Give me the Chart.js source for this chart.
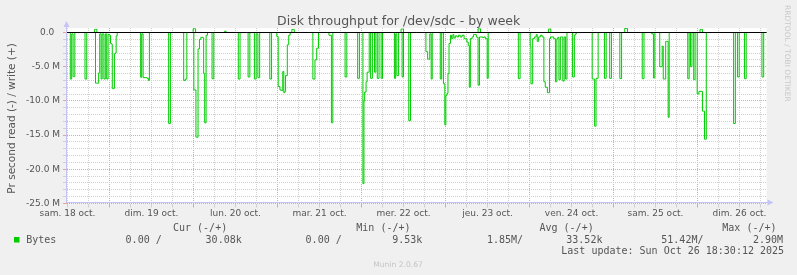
<!DOCTYPE html>
<html>
<head>
<meta charset="utf-8">
<script src="https://cdn.jsdelivr.net/npm/chart.js@4/dist/chart.umd.min.js"></script>
<style>
html,body{margin:0;padding:0;background:#f0f0f0;}
#wrap{position:relative;width:797px;height:275px;}
canvas{display:block;}
</style>
</head>
<body>
<div id="wrap"><canvas id="c" width="797" height="275"></canvas></div>
<script>
// ---- data (hours since sam. 18 oct. 00:00, values in millions of bytes/s) ----
const dayLabels = ['sam. 18 oct.', 'dim. 19 oct.', 'lun. 20 oct.', 'mar. 21 oct.', 'mer. 22 oct.',
  'jeu. 23 oct.', 'ven. 24 oct.', 'sam. 25 oct.', 'dim. 26 oct.'];

// read throughput, drawn as negative values
const readSamples = [
  [11.9,0],
  [12.3,0],[12.8,-6.8],[13.2,-0.2],[13.6,-6.45],[14.1,0],
  [16.5,0],[17.0,-6.8],[17.5,0],
  [19.6,0],[20.0,-7.4],[20.4,-7.4],[20.9,-5.9],[21.2,-0.2],[21.6,-6.8],[21.9,-0.2],[22.4,-6.8],[22.8,-0.2],[23.2,-6.8],[23.6,-0.3],[24.0,-0.4],[24.3,-1.6],[24.6,-1.7],[24.8,-8.2],[25.1,-8.2],[25.4,-3.1],[25.7,-3.0],[25.9,-0.5],[26.2,0],
  [32.5,0],[32.9,-6.55],[33.2,-0.2],[33.6,-6.6],[34.7,-6.7],[35.1,-7.0],[35.4,0],
  [40.4,0],[40.9,-13.3],[41.4,0],
  [44.9,0],[45.2,-7.0],[45.7,-6.8],[46.1,0],
  [47.9,0],[48.1,-8.4],[48.4,-8.4],[48.7,-15.3],[48.9,-15.3],[49.3,-2.4],[49.7,-1.0],[50.1,-0.7],[50.7,-0.8],[50.9,-6.0],[51.2,-13.2],[51.6,-0.4],[52.0,0],
  [52.8,0],[53.3,-6.75],[53.8,0],
  [60.3,0],[60.8,-6.8],[61.3,0],
  [63.1,0],[63.6,-6.5],[64.1,0],
  [64.9,0],[65.4,-6.8],[65.9,-0.2],[66.4,-6.6],[66.9,0],
  [69.3,0],[69.8,-6.8],[70.3,0],
  [71.4,0],[71.8,-0.6],[72.2,-7.9],[72.7,-8.4],[73.2,-8.5],[73.5,-5.7],[73.8,-8.8],[74.1,-8.6],[74.3,-6.3],[74.8,-1.8],[75.2,-0.4],[75.6,0],
  [81.7,0],[82.1,-6.8],[82.7,-4.0],[83.2,-2.3],[83.7,0],
  [86.3,0],[86.7,-0.4],[87.0,-0.4],[87.4,-13.2],[87.8,0],
  [90.8,0],[91.3,-6.5],[91.8,0],
  [94.4,0],[94.9,-6.7],[95.4,0],
  [96.0,0],[96.4,-22.1],[96.7,-10.0],[96.9,-8.7],[97.3,-7.2],[97.6,-5.8],[97.9,-5.8],[98.2,0],[98.6,-6.7],[99.1,0],[99.7,-5.8],[100.1,0],[100.5,-6.7],[101.0,0],[101.6,-6.7],[102.0,0],
  [104.9,0],[105.4,-6.7],[105.75,-0.2],[106.1,-6.3],[106.6,0],
  [107.1,0],[107.6,-6.5],[108.0,0],
  [109.0,0],[109.5,-12.9],[110.0,0],
  [114.0,0],[114.4,-2.8],[114.9,-3.9],[115.2,-3.9],[115.5,-0.2],[115.9,-6.8],[116.2,0],
  [118.0,0],[118.5,-6.8],[118.9,0],
  [119.1,0],[119.4,-7.5],[119.8,-13.5],[120.1,-9.2],[120.4,-8.9],[120.7,-6.0],[121.0,-1.6],[121.4,-0.4],[121.7,-0.9],[122.1,-0.3],[122.4,-0.8],[122.8,-0.5],[123.3,-0.65],[123.7,-0.4],[124.2,-0.65],[124.7,-0.4],[125.3,-0.9],[125.7,-0.9],[126.1,-1.4],[126.5,-1.9],[126.8,-8.0],[127.1,-0.9],[127.6,-0.65],[128.0,-0.3],[128.4,-0.3],[128.8,-0.65],[129.0,-0.7],[129.3,-7.7],[129.7,-0.65],[130.1,-0.65],[130.6,-0.75],[131.0,-0.65],[131.4,-0.9],[131.9,-6.7],[132.2,0],
  [140.3,0],[140.8,-6.75],[141.3,0],
  [143.9,0],[144.2,-2.1],[144.4,-7.5],[144.9,-0.9],[145.4,-0.65],[145.9,-0.3],[146.2,-1.3],[146.6,-0.65],[147.1,-0.4],[147.6,-0.65],[148.1,-7.2],[148.5,-8.0],[149.1,-8.8],[149.5,-8.8],[149.7,-0.9],[150.0,-0.65],[150.4,-0.65],[150.9,-0.9],[151.4,-7.2],[151.8,-0.9],[152.1,-0.7],[152.4,-6.9],[152.8,-0.65],[153.1,-0.65],[153.5,-7.1],[153.9,-0.65],[154.3,-6.8],[154.7,0],
  [155.8,0],[156.3,-6.5],[156.8,-0.4],[157.1,-0.2],[157.4,0],
  [161.6,0],[161.9,-6.8],[162.3,-6.8],[162.6,-13.7],[162.85,-13.7],[163.0,-6.7],[163.3,-6.7],[163.6,0],
  [164.9,0],[165.4,-6.7],[165.9,0],
  [166.4,0],[166.9,-6.7],[167.4,0],
  [169.3,0],[169.8,-6.75],[170.3,0],
  [175.7,0],[176.2,-6.75],[176.7,0],
  [178.6,0],[178.9,-0.2],[179.4,-6.65],[179.8,0],
  [180.9,0],[181.2,-5.0],[181.6,-5.0],[181.9,-2.0],[182.2,-6.8],[182.6,-6.8],[182.9,-1.3],[183.2,-1.3],[183.6,-12.4],[183.9,0],
  [188.8,0],[189.2,-6.75],[189.6,0],[190.0,-5.0],[190.4,0],[190.9,-6.9],[191.3,0],
  [191.5,0],[191.9,-9.0],[192.4,-8.6],[193.0,-8.6],[193.4,-11.5],[193.7,-11.5],[194.0,-15.6],[194.2,-15.6],[194.5,0],
  [201.8,0],[202.3,-13.3],[202.8,0],[203.4,-6.5],[203.9,0],
  [204.9,0],[205.4,-6.75],[205.9,0],
  [209.9,0],[210.4,-6.5],[210.9,0],
  [211.7,0]
];

// write throughput, drawn as positive values
const writeSamples = [
  [11.9,0],
  [19.3,0],[19.7,0.45],[20.0,0.45],[20.4,0],
  [47.6,0],[47.9,0.55],[48.3,0.55],[48.6,0],
  [56.5,0],[56.9,0.2],[57.3,0],
  [75.8,0],[76.1,0.45],[76.5,0.45],[76.8,0],
  [107.0,0],[107.3,0.5],[107.7,0.5],[108.0,0],
  [128.9,0],[129.3,0.55],[129.7,0.55],[130.0,0],
  [149.0,0],[149.4,0.5],[149.8,0.5],[150.1,0],
  [170.9,0],[171.2,0.6],[171.6,0.6],[172.0,0],
  [192.4,0],[192.7,0.45],[193.1,0.45],[193.4,0],
  [211.7,0]
];

const legendHeaders = ['Cur (-/+)', 'Min (-/+)', 'Avg (-/+)', 'Max (-/+)'];
const legendValues = ['0.00 /', '30.08k', '0.00 /', '9.53k', '1.85M/', '33.52k', '51.42M/', '2.90M'];
const seriesName = 'Bytes';
const lastUpdate = 'Last update: Sun Oct 26 18:30:12 2025';

// ---- rendering ----
const GREEN = '#00cc00';
const TEXT = '#555555';
const MINOR = '#d0d0d0';
const MAJOR = '#eba0a0';
const AXIS = '#c4c4f4';

const toPts = arr => arr.map(p => ({x: p[0], y: p[1]}));
const isMajorY = v => Math.abs(Math.round(v) % 5) === 0;

const muninPlugin = {
  id: 'munin',
  beforeDraw(chart) {
    const {ctx, chartArea: a} = chart;
    ctx.save();
    ctx.fillStyle = '#f0f0f0';
    ctx.fillRect(0, 0, chart.width, chart.height);
    ctx.fillStyle = '#ffffff';
    ctx.fillRect(a.left, a.top, a.right - a.left, a.bottom - a.top);
    ctx.restore();
  },
  afterDatasetsDraw(chart) {
    const {ctx, chartArea: a, scales: {y}} = chart;
    const y0 = Math.floor(y.getPixelForValue(0)) + 0.5;
    ctx.save();
    ctx.strokeStyle = '#000000';
    ctx.lineWidth = 1;
    ctx.beginPath();
    ctx.moveTo(a.left, y0);
    ctx.lineTo(a.right, y0);
    ctx.stroke();
    ctx.restore();
  },
  afterDraw(chart) {
    const {ctx, chartArea: a} = chart;
    ctx.save();
    // axes with arrows
    const ax = Math.floor(a.left) - 0.5;
    const ay = Math.floor(a.bottom) - 0.5;
    ctx.strokeStyle = AXIS;
    ctx.fillStyle = AXIS;
    ctx.lineWidth = 1;
    ctx.beginPath();
    ctx.moveTo(ax, ay + 0.5);
    ctx.lineTo(ax, a.top - 3);
    ctx.moveTo(ax - 0.5, ay);
    ctx.lineTo(a.right + 4, ay);
    ctx.stroke();
    ctx.beginPath();
    ctx.moveTo(ax, a.top - 7);
    ctx.lineTo(ax - 3, a.top - 1);
    ctx.lineTo(ax + 3, a.top - 1);
    ctx.closePath();
    ctx.fill();
    ctx.beginPath();
    ctx.moveTo(a.right + 7, ay);
    ctx.lineTo(a.right + 1, ay - 3);
    ctx.lineTo(a.right + 1, ay + 3);
    ctx.closePath();
    ctx.fill();

    // title
    ctx.fillStyle = TEXT;
    ctx.textAlign = 'center';
    ctx.textBaseline = 'alphabetic';
    ctx.font = '12.5px "DejaVu Sans"';
    ctx.fillText('Disk throughput for /dev/sdc - by week', 398.7, 24.5);

    // y axis title
    ctx.save();
    ctx.translate(15, 118.4);
    ctx.rotate(-Math.PI / 2);
    ctx.font = '10.5px "DejaVu Sans"';
    ctx.textAlign = 'center';
    ctx.fillText('Pr second read (-) / write (+)', 0, 0);
    ctx.restore();

    // watermark
    ctx.save();
    ctx.translate(785.3, 5);
    ctx.rotate(Math.PI / 2);
    ctx.font = '7.5px "DejaVu Sans"';
    ctx.textAlign = 'left';
    ctx.fillStyle = '#c8c8c8';
    ctx.fillText('RRDTOOL / TOBI OETIKER', 0, 0);
    ctx.restore();

    // legend
    ctx.font = '10px "DejaVu Sans Mono"';
    ctx.textAlign = 'left';
    ctx.fillStyle = TEXT;
    const hx = [173, 356.3, 539.5, 722.3];
    legendHeaders.forEach((h, i) => ctx.fillText(h, hx[i], 231));
    ctx.fillStyle = GREEN;
    ctx.fillRect(14, 237, 5.5, 5.5);
    ctx.fillStyle = TEXT;
    ctx.fillText(seriesName, 26.2, 242.5);
    const vx = [125.6, 205.6, 305.6, 392.2, 487, 566.3, 661.3, 753];
    legendValues.forEach((v, i) => ctx.fillText(v, vx[i], 242.5));
    ctx.fillText(lastUpdate, 561.3, 254);

    ctx.font = '7.6px "DejaVu Sans"';
    ctx.textAlign = 'center';
    ctx.fillStyle = '#c4c4c4';
    ctx.fillText('Munin 2.0.67', 398, 266.5);
    ctx.restore();
  }
};

new Chart(document.getElementById('c'), {
  type: 'line',
  data: {
    datasets: [
      {label: 'write', data: toPts(writeSamples), borderColor: GREEN, borderWidth: 1, pointRadius: 0, stepped: true, fill: false},
      {label: 'read', data: toPts(readSamples), borderColor: GREEN, borderWidth: 1, pointRadius: 0, stepped: true, fill: false}
    ]
  },
  options: {
    responsive: false,
    devicePixelRatio: 1,
    animation: false,
    events: [],
    layout: {padding: {left: 0, top: 28, right: 30.5, bottom: 51.5}},
    plugins: {legend: {display: false}, title: {display: false}, tooltip: {enabled: false}},
    scales: {
      x: {
        type: 'linear',
        min: 11.86,
        max: 211.7,
        afterFit(s) { s.height = 20; },
        afterBuildTicks(s) {
          const t = [];
          for (let v = Math.ceil(s.min / 6) * 6; v <= s.max; v += 6) t.push({value: v});
          s.ticks = t;
        },
        ticks: {
          autoSkip: false, maxRotation: 0, padding: 1,
          color: TEXT, font: {family: 'DejaVu Sans', size: 9},
          callback: v => (v % 24 === 12 ? dayLabels[(v - 12) / 24] : '')
        },
        grid: {
          color: c => (c.tick && c.tick.value % 24 === 0 ? MAJOR : MINOR),
          tickLength: 4, lineWidth: 1, borderDash: [1, 1]
        },
        border: {display: false, dash: [1, 1]}
      },
      y: {
        type: 'linear',
        min: -25,
        max: 0.66,
        afterFit(s) { s.width = 67; },
        afterBuildTicks(s) {
          const t = [];
          for (let v = -25; v <= 0; v += 1) t.push({value: v});
          s.ticks = t;
        },
        ticks: {
          autoSkip: false, padding: 3,
          color: TEXT, font: {family: 'DejaVu Sans', size: 9},
          callback: v => (isMajorY(v) ? (v === 0 ? '0.0  ' : v.toFixed(1) + ' M') : '')
        },
        grid: {
          color: c => (c.tick && isMajorY(c.tick.value) ? MAJOR : MINOR),
          tickLength: 4, lineWidth: 1, borderDash: [1, 1]
        },
        border: {display: false, dash: [1, 1]}
      }
    }
  },
  plugins: [muninPlugin]
});
</script>
</body>
</html>
